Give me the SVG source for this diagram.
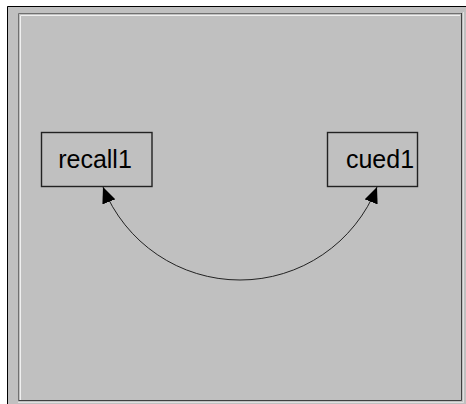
<svg xmlns="http://www.w3.org/2000/svg" width="466" height="404" viewBox="0 0 466 404">
<style>
.box{fill:none;stroke:#222;stroke-width:1.4}
.lbl{font-family:"Liberation Sans",Arial,sans-serif;font-size:25px;fill:#000;text-anchor:middle}
.edge{fill:none;stroke:#222;stroke-width:1}
</style>
<defs>
<marker id="ah" viewBox="0 0 16 14" refX="16" refY="7" markerWidth="16" markerHeight="14" markerUnits="userSpaceOnUse" orient="auto-start-reverse">
<path d="M0,0 L16,7 L0,14 Z" fill="#000"/>
</marker>
</defs>
<rect x="0" y="0" width="466" height="404" fill="#fff"/>
<rect x="7" y="6" width="459" height="398" fill="#c0c0c0"/>
<path d="M7.5,404 V6.5 H466" fill="none" stroke="#000" stroke-width="1"/>
<path d="M18.5,401 V13.5 H462" fill="none" stroke="#707070" stroke-width="1"/>
<path d="M20.5,400 V15.5 H460" fill="none" stroke="#f0f0f0" stroke-width="1"/>
<path d="M461.5,13 V400.5 H19" fill="none" stroke="#404040" stroke-width="1"/>
<path d="M463.5,12 V402.5 H18" fill="none" stroke="#e0e0e0" stroke-width="1"/>
<g id="connectors">
<path class="edge" d="M103,187 A147.4,147.4 0 0 0 377,187" marker-start="url(#ah)" marker-end="url(#ah)"/>
</g>
<g id="recall1">
<rect class="box" x="41.5" y="132.5" width="110.5" height="54"/>
<text class="lbl" x="95" y="168">recall1</text>
</g>
<g id="cued1">
<rect class="box" x="327.5" y="132.5" width="90" height="54"/>
<text class="lbl" x="380" y="168">cued1</text>
</g>
</svg>
